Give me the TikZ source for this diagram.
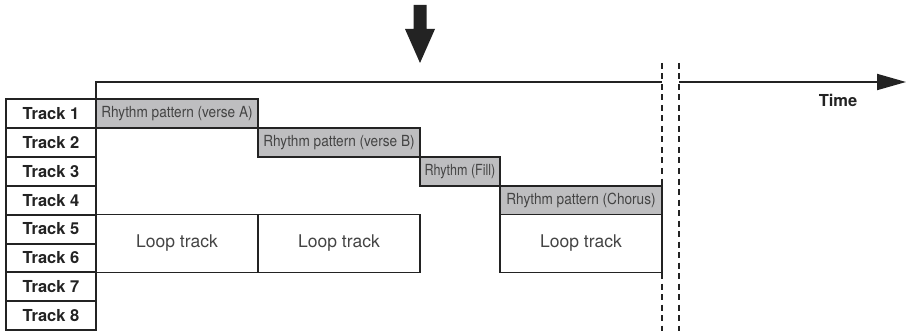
\documentclass[tikz,border=0pt]{standalone}
\usepackage{fontspec}
\setmainfont{TeX Gyre Heros}
\usepackage{graphicx}
\usetikzlibrary{arrows.meta,positioning}
\definecolor{patgray}{RGB}{190,190,192}
\definecolor{ink}{RGB}{35,35,35}
\newcommand{\narrowtxt}[2][0.89]{\scalebox{#1}[1]{#2}}

\begin{document}
\begin{tikzpicture}[x=1pt,y=-1pt,
    trackbox/.style={draw=ink,line width=2pt,outer sep=0pt,inner sep=0pt,
      minimum width=90pt,minimum height=28.9pt,text=ink,font=\fontsize{16.5}{18}\selectfont\bfseries},
    patbox/.style={draw=ink,line width=1.6pt,outer sep=0pt,inner sep=0pt,fill=patgray,
      minimum height=28.9pt,text=ink!85,font=\fontsize{15.3}{17}\selectfont},
    loopbox/.style={draw=ink,line width=1.6pt,outer sep=0pt,inner sep=0pt,
      minimum width=162pt,minimum height=57.8pt,text=ink!85,font=\fontsize{17.5}{19}\selectfont},
    breakline/.style={draw=ink,line width=2pt,dash pattern=on 6pt off 4.5pt}]
  \useasboundingbox (0,0) rectangle (909,331);
  % track labels
  \foreach \i in {1,...,8}
    \node[trackbox,anchor=north west] (t\i) at (6,{99+(\i-1)*28.9}) {Track \i};
  % rhythm patterns
  \node[patbox,anchor=north west,minimum width=162pt] (p1) at (t1.north east) {\narrowtxt{Rhythm pattern (verse A)}};
  \node[patbox,anchor=north west,minimum width=162pt] (p2) at (p1.south east) {\narrowtxt{Rhythm pattern (verse B)}};
  \node[patbox,anchor=north west,minimum width=80pt] (p3) at (p2.south east) {\narrowtxt[0.82]{Rhythm (Fill)}};
  \node[patbox,anchor=north west,minimum width=162pt] (p4) at (p3.south east) {\narrowtxt{Rhythm pattern (Chorus)}};
  % loop tracks
  \node[loopbox,anchor=north west] (l1) at (t5.north east) {Loop track};
  \node[loopbox,anchor=north west] (l2) at (l1.north east) {Loop track};
  \node[loopbox,anchor=north west] (l3) at (p4.south west) {Loop track};
  % time axis
  \coordinate (brkA) at (662,82);
  \coordinate (brkB) at (679,82);
  \coordinate (tend) at (906,82);
  \draw[ink,line width=2pt] (p1.north west) |- (brkA);
  \draw[ink,line width=2pt,-{Triangle[length=29pt,width=16pt]}] (brkB) -- (tend);
  \node[text=ink,font=\fontsize{16.5}{18}\selectfont\bfseries] (time) at (838,100) {Time};
  \draw[breakline] (662,63) -- (662,331);
  \draw[breakline] (679,63) -- (679,331);
  % marker arrow
  \fill[ink] (413.5,5) -- (426.5,5) -- (426.5,29) -- (435,29) -- (420,63) -- (405,29) -- (413.5,29) -- cycle;
\end{tikzpicture}
\end{document}
